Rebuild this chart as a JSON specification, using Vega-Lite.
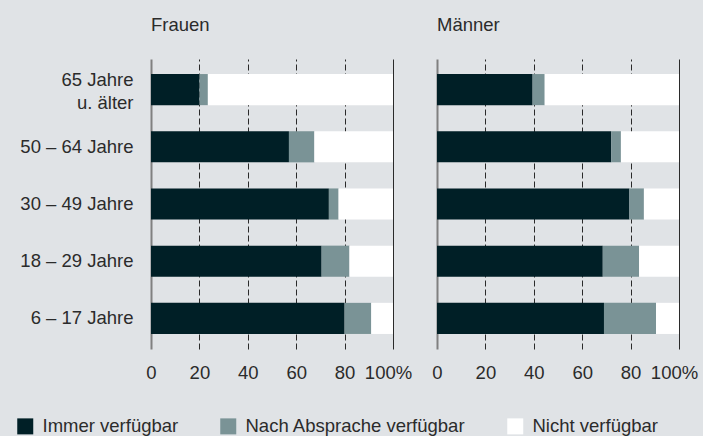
{
  "$schema": "https://vega.github.io/schema/vega-lite/v6.json",
  "background": "#e0e3e6",
  "padding": {"left": 16, "top": 15, "right": 5, "bottom": 5},
  "config": {
    "font": "Liberation Sans",
    "view": {"stroke": null},
    "axis": {"labelFont": "Liberation Sans", "labelColor": "#2b2b2b"}
  },
  "data": {
    "values": [
      {"sex": "Frauen", "age": "65 Jahre u. älter", "cat": "Immer verfügbar", "v": 20},
      {"sex": "Frauen", "age": "65 Jahre u. älter", "cat": "Nach Absprache verfügbar", "v": 3.5},
      {"sex": "Frauen", "age": "65 Jahre u. älter", "cat": "Nicht verfügbar", "v": 76.5},
      {"sex": "Frauen", "age": "50 – 64 Jahre", "cat": "Immer verfügbar", "v": 57},
      {"sex": "Frauen", "age": "50 – 64 Jahre", "cat": "Nach Absprache verfügbar", "v": 10.5},
      {"sex": "Frauen", "age": "50 – 64 Jahre", "cat": "Nicht verfügbar", "v": 32.5},
      {"sex": "Frauen", "age": "30 – 49 Jahre", "cat": "Immer verfügbar", "v": 73.5},
      {"sex": "Frauen", "age": "30 – 49 Jahre", "cat": "Nach Absprache verfügbar", "v": 4},
      {"sex": "Frauen", "age": "30 – 49 Jahre", "cat": "Nicht verfügbar", "v": 22.5},
      {"sex": "Frauen", "age": "18 – 29 Jahre", "cat": "Immer verfügbar", "v": 70.5},
      {"sex": "Frauen", "age": "18 – 29 Jahre", "cat": "Nach Absprache verfügbar", "v": 11.5},
      {"sex": "Frauen", "age": "18 – 29 Jahre", "cat": "Nicht verfügbar", "v": 18},
      {"sex": "Frauen", "age": "6 – 17 Jahre", "cat": "Immer verfügbar", "v": 80},
      {"sex": "Frauen", "age": "6 – 17 Jahre", "cat": "Nach Absprache verfügbar", "v": 11},
      {"sex": "Frauen", "age": "6 – 17 Jahre", "cat": "Nicht verfügbar", "v": 9},
      {"sex": "Männer", "age": "65 Jahre u. älter", "cat": "Immer verfügbar", "v": 39.5},
      {"sex": "Männer", "age": "65 Jahre u. älter", "cat": "Nach Absprache verfügbar", "v": 5},
      {"sex": "Männer", "age": "65 Jahre u. älter", "cat": "Nicht verfügbar", "v": 55.5},
      {"sex": "Männer", "age": "50 – 64 Jahre", "cat": "Immer verfügbar", "v": 72},
      {"sex": "Männer", "age": "50 – 64 Jahre", "cat": "Nach Absprache verfügbar", "v": 4},
      {"sex": "Männer", "age": "50 – 64 Jahre", "cat": "Nicht verfügbar", "v": 24},
      {"sex": "Männer", "age": "30 – 49 Jahre", "cat": "Immer verfügbar", "v": 79.5},
      {"sex": "Männer", "age": "30 – 49 Jahre", "cat": "Nach Absprache verfügbar", "v": 6},
      {"sex": "Männer", "age": "30 – 49 Jahre", "cat": "Nicht verfügbar", "v": 14.5},
      {"sex": "Männer", "age": "18 – 29 Jahre", "cat": "Immer verfügbar", "v": 68.5},
      {"sex": "Männer", "age": "18 – 29 Jahre", "cat": "Nach Absprache verfügbar", "v": 15},
      {"sex": "Männer", "age": "18 – 29 Jahre", "cat": "Nicht verfügbar", "v": 16.5},
      {"sex": "Männer", "age": "6 – 17 Jahre", "cat": "Immer verfügbar", "v": 69},
      {"sex": "Männer", "age": "6 – 17 Jahre", "cat": "Nach Absprache verfügbar", "v": 21.5},
      {"sex": "Männer", "age": "6 – 17 Jahre", "cat": "Nicht verfügbar", "v": 9.5}
    ]
  },
  "facet": {
    "column": {
      "field": "sex",
      "type": "nominal",
      "sort": ["Frauen", "Männer"],
      "header": {
        "title": null,
        "labelAnchor": "start",
        "labelFont": "Liberation Sans",
        "labelFontSize": 18.5,
        "labelColor": "#2b2b2b",
        "labelPadding": 25
      }
    }
  },
  "spacing": {"column": 44},
  "spec": {
    "width": 242,
    "height": 290,
    "mark": {"type": "bar"},
    "encoding": {
      "y": {
        "field": "age",
        "type": "nominal",
        "sort": ["65 Jahre u. älter", "50 – 64 Jahre", "30 – 49 Jahre", "18 – 29 Jahre", "6 – 17 Jahre"],
        "scale": {"paddingInner": 0.456, "paddingOuter": 0.263},
        "axis": {
          "title": null,
          "domain": false,
          "ticks": false,
          "grid": false,
          "labelFontSize": 18.5,
          "labelPadding": 18,
          "labelLineHeight": 23,
          "labelLimit": 200,
          "labelOffset": {"condition": {"test": "datum.value == '65 Jahre u. älter'", "value": -10}, "value": 0},
          "labelExpr": "datum.label == '65 Jahre u. älter' ? ['65 Jahre', 'u. älter'] : datum.label"
        }
      },
      "x": {
        "field": "v",
        "type": "quantitative",
        "stack": "zero",
        "scale": {"domain": [0, 100], "nice": false},
        "axis": {
          "title": null,
          "values": [0, 20, 40, 60, 80, 100],
          "domain": false,
          "ticks": false,
          "labelFontSize": 18.5,
          "labelPadding": 14,
          "labelFlush": false,
          "labelExpr": "datum.value == 100 ? '100%' : datum.label",
          "labelOffset": {"condition": {"test": "datum.value == 100", "value": -5}, "value": 0},
          "grid": true,
          "gridColor": {"condition": {"test": "datum.value == 0", "value": "#808080"}, "value": "#2a2a2a"},
          "gridWidth": {"condition": {"test": "datum.value == 0", "value": 2}, "value": 1},
          "gridDash": {"condition": {"test": "datum.value == 0 || datum.value == 100", "value": []}, "value": [6, 3]}
        }
      },
      "color": {
        "field": "cat",
        "type": "nominal",
        "sort": ["Immer verfügbar", "Nach Absprache verfügbar", "Nicht verfügbar"],
        "scale": {
          "domain": ["Immer verfügbar", "Nach Absprache verfügbar", "Nicht verfügbar"],
          "range": ["#001f26", "#7a9396", "#ffffff"]
        },
        "legend": {
          "title": null,
          "orient": "none",
          "direction": "horizontal",
          "legendX": -135,
          "legendY": 358,
          "symbolType": "square",
          "symbolSize": 256,
          "symbolStrokeWidth": 0,
          "symbolOpacity": 1,
          "labelFont": "Liberation Sans",
          "labelFontSize": 18.5,
          "labelColor": "#2b2b2b",
          "labelOffset": 8,
          "columnPadding": 40,
          "labelLimit": 400
        }
      }
    }
  }
}
